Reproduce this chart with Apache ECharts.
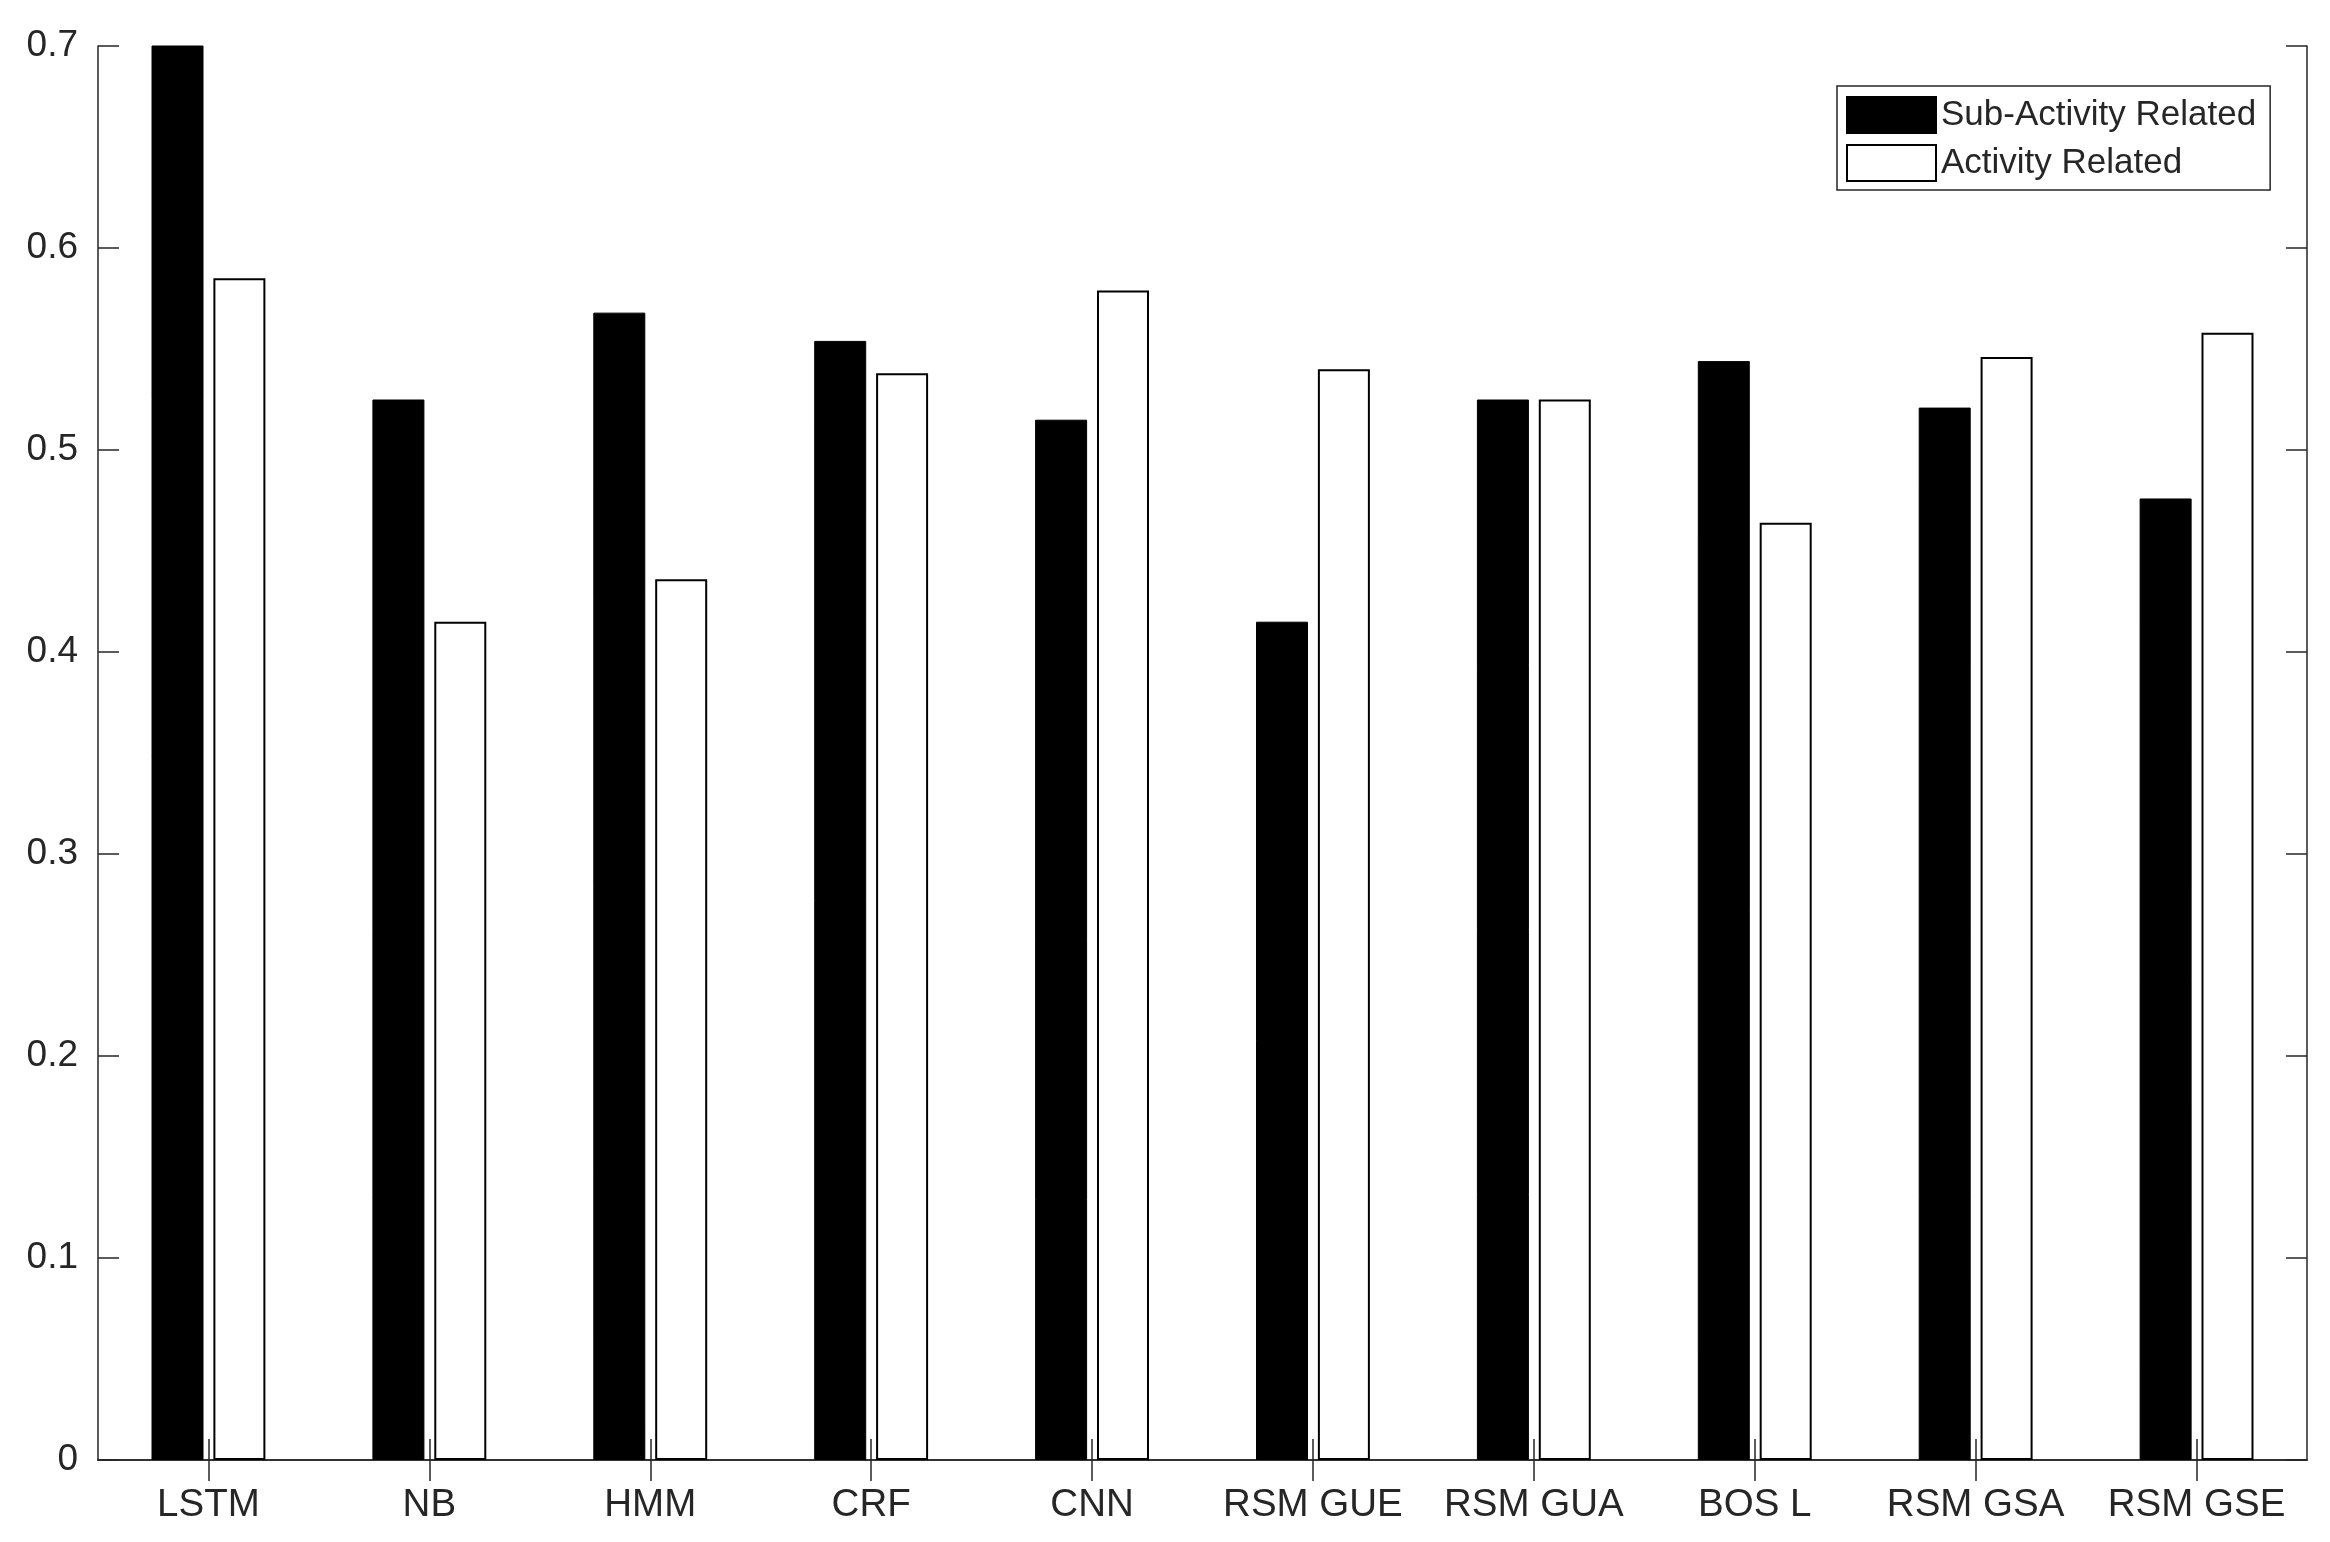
<!DOCTYPE html>
<html>
<head>
<meta charset="utf-8">
<title>Sub-activity vs activity</title>
<script src="https://cdn.jsdelivr.net/npm/echarts@6/dist/echarts.min.js"></script>
<style>
  html, body { margin: 0; padding: 0; background: #fff; }
  #chart { width: 2330px; height: 1542px; }
</style>
</head>
<body>
<div id="chart"></div>
<script>
const categories = ['LSTM', 'NB', 'HMM', 'CRF', 'CNN', 'RSM GUE', 'RSM GUA', 'BOS L', 'RSM GSA', 'RSM GSE']
const subActivity = [0.72, 0.525, 0.568, 0.554, 0.515, 0.415, 0.525, 0.544, 0.521, 0.476]
const activity = [0.585, 0.415, 0.436, 0.538, 0.579, 0.540, 0.525, 0.464, 0.546, 0.558]
const yTicks = [0, 0.7, 0.1]

const ink = '#262626'
const font = "'Liberation Sans', Arial, sans-serif"

const chart = echarts.init(document.getElementById('chart'))

const yAxisBase = {
  type: 'value',
  min: yTicks[0],
  max: yTicks[1],
  interval: yTicks[2],
  splitLine: { show: false },
  axisLine: { show: true, lineStyle: { color: ink, width: 1.5 } },
  axisTick: { show: true, inside: true, length: 21, lineStyle: { color: ink, width: 1.5 } }
}

const xAxisBase = {
  type: 'category',
  data: categories,
  axisLine: { show: true, lineStyle: { color: ink, width: 1.5 } },
  axisTick: { show: true, inside: true, interval: 0, alignWithLabel: true, length: 21, lineStyle: { color: ink, width: 1.5 } }
}

chart.setOption({
  animation: false,
  backgroundColor: '#fff',
  textStyle: { fontFamily: font },
  grid: { left: 98, top: 46, right: 23, bottom: 82 },
  legend: {
    orient: 'vertical',
    left: 1837,
    top: 86,
    padding: [10, 14, 8, 9],
    itemWidth: 89,
    itemHeight: 36,
    itemGap: 10,
    icon: 'rect',
    backgroundColor: '#fff',
    borderColor: ink,
    borderWidth: 1.5,
    borderRadius: 0,
    textStyle: { fontSize: 35, color: ink, fontFamily: font },
    data: ['Sub-Activity Related', 'Activity Related']
  },
  xAxis: [
    Object.assign({}, xAxisBase, {
      position: 'bottom',
      axisLabel: { interval: 0, fontSize: 38.5, color: ink, margin: 26, fontFamily: font }
    }),
    Object.assign({}, xAxisBase, {
      position: 'top',
      axisLabel: { show: false }
    })
  ],
  yAxis: [
    Object.assign({}, yAxisBase, {
      position: 'left',
      axisLabel: { fontSize: 37, color: ink, margin: 20, fontFamily: font }
    }),
    Object.assign({}, yAxisBase, {
      position: 'right',
      axisLabel: { show: false }
    })
  ],
  series: [
    {
      name: 'Sub-Activity Related',
      type: 'bar',
      barWidth: 52,
      barGap: '19%',
      clip: true,
      itemStyle: { color: '#000', borderColor: '#000', borderWidth: 1 },
      data: subActivity
    },
    {
      name: 'Activity Related',
      type: 'bar',
      barWidth: 52,
      barGap: '19%',
      clip: true,
      itemStyle: { color: '#fff', borderColor: '#000', borderWidth: 2 },
      data: activity
    }
  ]
})

window.addEventListener('resize', () => {
  chart.resize()
})
</script>
</body>
</html>
